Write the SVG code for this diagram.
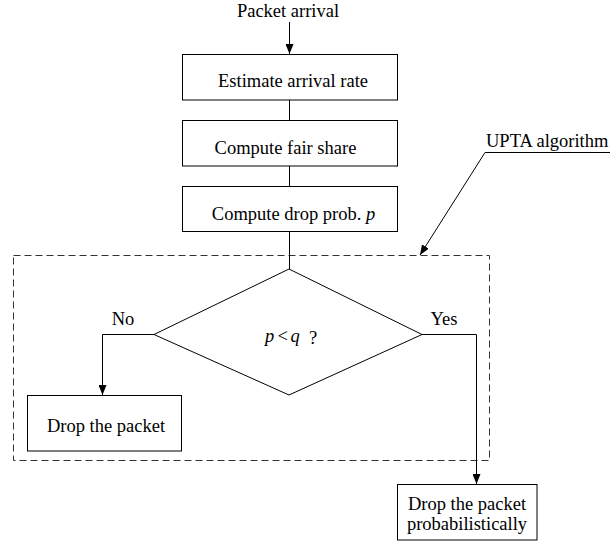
<svg xmlns="http://www.w3.org/2000/svg" width="610" height="541" viewBox="0 0 610 541">
<defs>
<marker id="arr" viewBox="0 0 10 8" refX="10" refY="4" markerWidth="10" markerHeight="8" markerUnits="userSpaceOnUse" orient="auto">
<path d="M0,0 L10,4 L0,8 Z" fill="#000"/>
</marker>
<style>
text{font-family:"Liberation Serif","Times New Roman",serif;font-size:18.5px;fill:#000}
.box{fill:#fff;stroke:#000;stroke-width:1}
.ln{fill:none;stroke:#000;stroke-width:1}
.dash{fill:none;stroke:#333;stroke-width:1;stroke-dasharray:7,4}
.it{font-style:italic}
</style>
</defs>
<rect width="610" height="541" fill="#fff"/>
<g id="upta-region">
<rect class="dash" x="13.5" y="255.5" width="476" height="205"/>
</g>
<g id="connectors">
<line class="ln" x1="289.5" y1="22" x2="289.5" y2="54" marker-end="url(#arr)"/>
<line class="ln" x1="289.5" y1="100" x2="289.5" y2="120"/>
<line class="ln" x1="289.5" y1="166" x2="289.5" y2="186"/>
<line class="ln" x1="289.5" y1="231" x2="289.5" y2="269"/>
<polyline class="ln" points="154,334.5 102.5,334.5 102.5,395" marker-end="url(#arr)"/>
<polyline class="ln" points="422,334.5 476.5,334.5 476.5,484" marker-end="url(#arr)"/>
<polyline class="ln" points="610,152.5 485,152.5 420,255" marker-end="url(#arr)"/>
</g>
<g id="label-packet-arrival"><text x="288" y="17" text-anchor="middle">Packet arrival</text></g>
<g id="label-upta"><text x="486" y="147">UPTA algorithm</text></g>
<g id="estimate">
<rect class="box" x="182.5" y="54.5" width="215" height="45.5"/>
<text x="293" y="87" text-anchor="middle">Estimate arrival rate</text>
</g>
<g id="fairshare">
<rect class="box" x="182.5" y="120.5" width="215" height="45.5"/>
<text x="285.5" y="154" text-anchor="middle">Compute fair share</text>
</g>
<g id="dropprob">
<rect class="box" x="182.5" y="186.5" width="215" height="45"/>
<text x="293.5" y="220" text-anchor="middle">Compute drop prob.  <tspan class="it">p</tspan></text>
</g>
<g id="decision">
<polygon class="box" points="289,269 422,334.5 289,395 154,334.5"/>
<text x="265" y="342" class="it">p</text>
<text x="277.5" y="342" font-size="17">&lt;</text>
<text x="290.5" y="342" class="it">q</text>
<text x="309" y="344" font-size="15">?</text>
</g>
<g id="label-no"><text x="123" y="325" text-anchor="middle">No</text></g>
<g id="label-yes"><text x="444" y="325" text-anchor="middle">Yes</text></g>
<g id="drop">
<rect class="box" x="27.5" y="395.5" width="154" height="55.5"/>
<text x="106" y="432" text-anchor="middle">Drop the packet</text>
</g>
<g id="drop-prob">
<rect class="box" x="397.5" y="484.5" width="139.5" height="55.5"/>
<text x="467" y="510" text-anchor="middle">Drop the packet</text>
<text x="467" y="530" text-anchor="middle">probabilistically</text>
</g>
</svg>
